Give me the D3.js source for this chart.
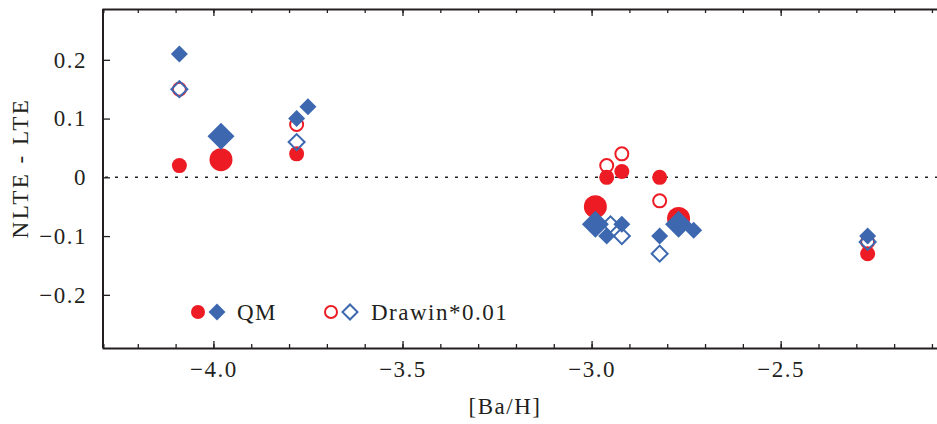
<!DOCTYPE html>
<html>
<head>
<meta charset="utf-8">
<script src="https://cdn.jsdelivr.net/npm/d3@7"></script>
<style>
body { margin: 0; background: #fff; }
text { font-family: "Liberation Serif", "Times New Roman", serif; fill: #231f20; }
.axis path, .axis line { stroke: #231f20; }
</style>
</head>
<body>
<script>
// ---- data ----
// red filled circles (QM)
var qmCircX   = [-4.09, -3.98, -3.78, -2.99, -2.96, -2.92, -2.82, -2.77, -2.27];
var qmCircY   = [ 0.02,  0.03,  0.04, -0.05,  0.00,  0.01,  0.00, -0.07, -0.13];
var qmCircBig = [ 0,     1,     0,     1,     0,     0,     0,     1,     0   ];
// blue filled diamonds (QM)
var qmDiaX    = [-4.09, -3.98, -3.78, -3.75, -2.99, -2.96, -2.92, -2.82, -2.77, -2.73, -2.27];
var qmDiaY    = [ 0.21,  0.07,  0.10,  0.12, -0.08, -0.10, -0.08, -0.10, -0.08, -0.09, -0.10];
var qmDiaBig  = [ 0,     1,     0,     0,     1,     0,     0,     0,     1,     0,     0   ];
// red open circles (Drawin*0.01)
var drCircX   = [-4.09, -3.78, -2.96, -2.92, -2.82, -2.27];
var drCircY   = [ 0.15,  0.09,  0.02,  0.04, -0.04, -0.11];
// blue open diamonds (Drawin*0.01)
var drDiaX    = [-4.09, -3.78, -2.95, -2.92, -2.82, -2.27];
var drDiaY    = [ 0.15,  0.06, -0.08, -0.10, -0.13, -0.11];

var xMajor = [-4.0, -3.5, -3.0, -2.5];
var yMajor = [0.2, 0.1, 0, -0.1, -0.2];

var red = "#ed1c24", blue = "#3d68b0";
var width = 937, height = 424;
var pLeft = 103, pRight = 939.5, pTop = 9, pBottom = 348;

var x = d3.scaleLinear().domain([-4.292, -2.08]).range([pLeft, pRight]);
var y = d3.scaleLinear().domain([-0.2905, 0.2865]).range([pBottom, pTop]);

var svg = d3.select("body").append("svg")
    .attr("width", width)
    .attr("height", height);

// left frame line
svg.append("line").attr("x1", pLeft).attr("x2", pLeft).attr("y1", pTop).attr("y2", pBottom)
    .attr("stroke", "#231f20").attr("stroke-width", 2);

function fmtX(d) { return d3.format(".1f")(d); }
function fmtY(d) { return d === 0 ? "0" : d3.format(".1f")(d); }

var minorX = d3.range(-42, -20).map(d => d / 10);

// bottom axis
var gb = svg.append("g").attr("class", "axis").attr("transform", "translate(0," + pBottom + ")");
gb.call(d3.axisBottom(x).tickValues(minorX).tickSize(-4).tickFormat(""));
var gb2 = svg.append("g").attr("class", "axis").attr("transform", "translate(0," + pBottom + ")");
gb2.call(d3.axisBottom(x).tickValues(xMajor).tickSize(-7).tickPadding(13).tickFormat(fmtX));
gb.select(".domain").attr("stroke-width", 2);
gb2.select(".domain").remove();

// top axis
var gt = svg.append("g").attr("class", "axis").attr("transform", "translate(0," + pTop + ")");
gt.call(d3.axisTop(x).tickValues(minorX).tickSize(-4).tickFormat(""));
var gt2 = svg.append("g").attr("class", "axis").attr("transform", "translate(0," + pTop + ")");
gt2.call(d3.axisTop(x).tickValues(xMajor).tickSize(-7).tickFormat(""));
gt.select(".domain").attr("stroke-width", 2);
gt2.select(".domain").remove();

// left axis
var gl = svg.append("g").attr("class", "axis").attr("transform", "translate(" + pLeft + ",0)");
gl.call(d3.axisLeft(y).tickValues(yMajor).tickSize(-7).tickPadding(16).tickFormat(fmtY));
gl.select(".domain").remove();

svg.selectAll(".axis line").attr("stroke-width", 1.3);
svg.selectAll(".axis text")
    .attr("font-family", "Liberation Serif")
    .style("font-size", "23px")
    .style("letter-spacing", "1.5px")
    .attr("fill", "#231f20");

// zero line
svg.append("line")
    .attr("x1", pLeft + 2).attr("x2", pRight)
    .attr("y1", y(0)).attr("y2", y(0))
    .attr("stroke", "#231f20").attr("stroke-width", 1.5)
    .attr("stroke-dasharray", "3,7");

// axis titles
svg.append("text")
    .attr("x", 505).attr("y", 414)
    .attr("text-anchor", "middle")
    .style("font-size", "23px").style("letter-spacing", "1.5px")
    .text("[Ba/H]");
svg.append("text")
    .attr("transform", "translate(28,168) rotate(-90)")
    .attr("text-anchor", "middle")
    .style("font-size", "23px").style("letter-spacing", "2.5px")
    .text("NLTE - LTE");

// markers
var diamond = d3.symbol().type(d3.symbolSquare);
function diaPath(h) { return diamond.size(2 * h * h)(); }

var plot = svg.append("g");

plot.selectAll(".ocirc").data(drCircX.map((v, i) => [v, drCircY[i]]))
  .enter().append("circle")
    .attr("cx", d => x(d[0])).attr("cy", d => y(d[1]))
    .attr("r", 6.5)
    .attr("fill", "none").attr("stroke", red).attr("stroke-width", 2);

plot.selectAll(".fcirc").data(qmCircX.map((v, i) => [v, qmCircY[i], qmCircBig[i]]))
  .enter().append("circle")
    .attr("cx", d => x(d[0])).attr("cy", d => y(d[1]))
    .attr("r", d => d[2] ? 11.5 : 7.5)
    .attr("fill", red);

plot.selectAll(".odia").data(drDiaX.map((v, i) => [v, drDiaY[i]]))
  .enter().append("path")
    .attr("d", diaPath(8))
    .attr("transform", d => "translate(" + x(d[0]) + "," + y(d[1]) + ") rotate(45)")
    .attr("fill", "none").attr("stroke", blue).attr("stroke-width", 2);

plot.selectAll(".fdia").data(qmDiaX.map((v, i) => [v, qmDiaY[i], qmDiaBig[i]]))
  .enter().append("path")
    .attr("d", d => diaPath(d[2] ? 13.5 : 8.5))
    .attr("transform", d => "translate(" + x(d[0]) + "," + y(d[1]) + ") rotate(45)")
    .attr("fill", blue);

// legend
var lg = svg.append("g");
lg.append("circle").attr("cx", 198).attr("cy", 312).attr("r", 7).attr("fill", red);
lg.append("path").attr("d", diaPath(8.5))
    .attr("transform", "translate(217,312) rotate(45)").attr("fill", blue);
lg.append("text").attr("x", 237).attr("y", 320)
    .style("font-size", "23px").style("letter-spacing", "1.5px").text("QM");
lg.append("circle").attr("cx", 331).attr("cy", 312).attr("r", 6).attr("fill", "none")
    .attr("stroke", red).attr("stroke-width", 2);
lg.append("path").attr("d", diaPath(7.5))
    .attr("transform", "translate(350,312) rotate(45)").attr("fill", "none")
    .attr("stroke", blue).attr("stroke-width", 2);
lg.append("text").attr("x", 371).attr("y", 320)
    .style("font-size", "23px").style("letter-spacing", "1.5px").text("Drawin*0.01");
</script>
</body>
</html>
